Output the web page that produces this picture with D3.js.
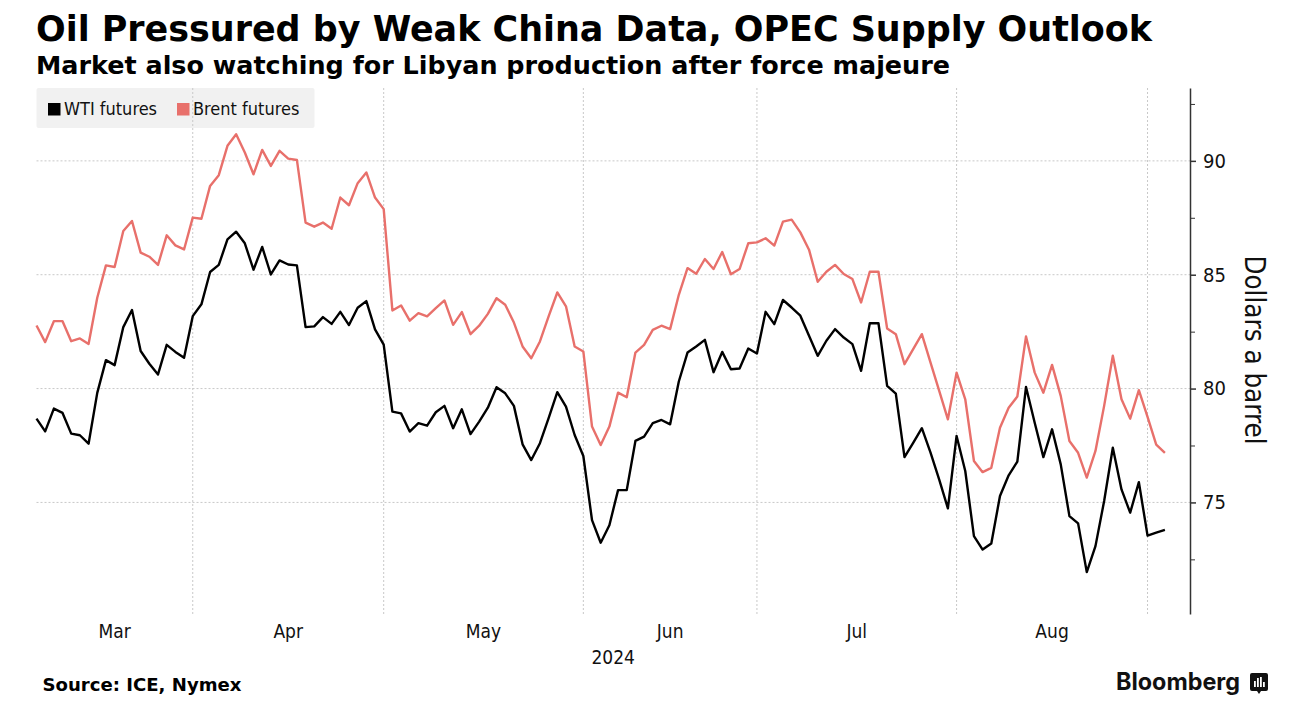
<!DOCTYPE html>
<html>
<head>
<meta charset="utf-8">
<script src="https://cdn.jsdelivr.net/npm/d3@7"></script>
<style>
  body { margin: 0; background: #fff; }
  svg text { font-family: "DejaVu Sans Condensed", "DejaVu Sans", sans-serif; }
</style>
</head>
<body>
<div id="canvas"></div>
<script>
// Daily closes, 4 Mar 2024 -> 3 Sep 2024 (one value per trading day)
const wti = [
  78.68, 78.12, 79.12, 78.93, 78.02, 77.95, 77.58, 79.81, 81.25, 81.03,
  82.70, 83.45, 81.65, 81.09, 80.62, 81.92, 81.61, 81.35, 83.18, 83.70,
  85.12, 85.43, 86.55, 86.89, 86.38, 85.22, 86.22, 85.01, 85.63, 85.45,
  85.41, 82.70, 82.73, 83.14, 82.84, 83.37, 82.79, 83.55, 83.84, 82.60,
  81.93, 78.99, 78.91, 78.11, 78.48, 78.37, 78.96, 79.24, 78.26, 79.09,
  78.00, 78.55, 79.16, 80.06, 79.79, 79.24, 77.55, 76.86, 77.60, 78.70,
  79.84, 79.21, 77.96, 77.04, 74.22, 73.23, 74.00, 75.54, 75.54, 77.70,
  77.89, 78.48, 78.62, 78.43, 80.31, 81.58, 81.85, 82.14, 80.72, 81.61,
  80.85, 80.88, 81.76, 81.54, 83.37, 82.83, 83.89, 83.56, 83.20, 82.32,
  81.44, 82.10, 82.61, 82.24, 81.95, 80.78, 82.87, 82.87, 80.12, 79.78,
  76.99, 77.62, 78.26, 77.19, 76.00, 74.74, 77.92, 76.38, 73.52, 72.93,
  73.20, 75.28, 76.19, 76.79, 80.07, 78.50, 76.99, 78.21, 76.67, 74.40,
  74.08, 71.94, 73.08, 75.06, 77.40, 75.57, 74.55, 75.89, 73.54, 73.67,
  73.79
];
const brent = [
  82.77, 82.04, 82.96, 82.96, 82.08, 82.20, 81.96, 83.99, 85.41, 85.34,
  86.92, 87.36, 85.97, 85.79, 85.43, 86.73, 86.29, 86.11, 87.51, 87.46,
  88.90, 89.37, 90.66, 91.17, 90.37, 89.41, 90.48, 89.78, 90.44, 90.10,
  90.04, 87.29, 87.11, 87.29, 87.02, 88.39, 88.05, 89.02, 89.49, 88.39,
  87.88, 83.43, 83.65, 82.98, 83.31, 83.17, 83.53, 83.87, 82.80, 83.36,
  82.39, 82.76, 83.28, 83.97, 83.68, 82.90, 81.85, 81.33, 82.07, 83.17,
  84.22, 83.61, 81.85, 81.63, 78.33, 77.52, 78.33, 79.82, 79.62, 81.58,
  81.92, 82.58, 82.76, 82.61, 84.12, 85.29, 85.04, 85.69, 85.25, 86.00,
  85.02, 85.25, 86.38, 86.42, 86.60, 86.28, 87.33, 87.42, 86.86, 86.10,
  84.69, 85.13, 85.43, 85.03, 84.81, 83.78, 85.13, 85.13, 82.64, 82.39,
  81.07, 81.73, 82.39, 81.14, 79.90, 78.65, 80.70, 79.53, 76.82, 76.33,
  76.52, 78.28, 79.16, 79.65, 82.29, 80.70, 79.82, 81.04, 79.68, 77.70,
  77.18, 76.09, 77.26, 79.24, 81.44, 79.53, 78.68, 79.93, 78.76, 77.54,
  77.18
];
const seriesNames = ["WTI futures", "Brent futures"];
const seriesColors = ["#000000", "#e8706b"];
const yTicks = [75, 80, 85, 90];
const yMinorTicks = [72.5, 77.5, 82.5, 87.5, 92.5];
const monthLabels = ["Mar", "Apr", "May", "Jun", "Jul", "Aug"];
const yearLabel = "2024";

// Trading days: weekdays, Good Friday closed
const days = d3.timeDay.range(new Date(2024, 2, 4), new Date(2024, 8, 4))
  .filter(d => d.getDay() !== 0 && d.getDay() !== 6)
  .filter(d => +d !== +new Date(2024, 2, 29));

const width = 1316;
const height = 716;

const svg = d3.select("#canvas").append("svg")
  .attr("width", width)
  .attr("height", height);

const x = d3.scaleLinear()
  .domain([0, days.length - 1])
  .range([36.5, 36.5 + (days.length - 1) * 8.68]);

const y = d3.scaleLinear()
  .domain([70.1, 93.2])
  .range([614, 88]);

const axisX = 1190;

// Titulos
svg.append("text")
  .attr("x", 36).attr("y", 41)
  .attr("textLength", 1116).attr("lengthAdjust", "spacingAndGlyphs")
  .style("font-family", "'DejaVu Sans', sans-serif")
  .style("font-weight", "bold").style("font-size", "35px")
  .text("Oil Pressured by Weak China Data, OPEC Supply Outlook");

svg.append("text")
  .attr("x", 36).attr("y", 74)
  .attr("textLength", 914).attr("lengthAdjust", "spacingAndGlyphs")
  .style("font-family", "'DejaVu Sans', sans-serif")
  .style("font-weight", "bold").style("font-size", "24px")
  .text("Market also watching for Libyan production after force majeure");

// Legend background (gridlines show through it)
svg.append("rect")
  .attr("x", 36.5).attr("y", 88).attr("width", 278).attr("height", 40)
  .attr("rx", 2)
  .attr("fill", "#f1f1f1");

// Month boundaries = last trading day of each month
const monthEnds = monthLabels.map((m, k) => d3.max(days.map((d, i) => d.getMonth() === k + 2 ? i : -1)));

const grid = svg.append("g");
grid.selectAll("line.h").data(yTicks).enter().append("line")
  .attr("x1", x(0)).attr("x2", axisX)
  .attr("y1", d => y(d)).attr("y2", d => y(d))
  .attr("stroke", "#c8c8c8").attr("stroke-width", 1)
  .attr("stroke-dasharray", "2,2");
grid.selectAll("line.v").data(monthEnds).enter().append("line")
  .attr("x1", d => x(d)).attr("x2", d => x(d))
  .attr("y1", 88).attr("y2", 614)
  .attr("stroke", "#c8c8c8").attr("stroke-width", 1)
  .attr("stroke-dasharray", "2,2");

// Month labels centred in each month
svg.append("g").selectAll("text").data(monthLabels).enter().append("text")
  .attr("x", (d, k) => (x(k === 0 ? 0 : monthEnds[k - 1]) + x(monthEnds[k])) / 2)
  .attr("y", 638)
  .attr("text-anchor", "middle")
  .style("font-size", "19px")
  .attr("fill", "#111")
  .text(d => d);

svg.append("text")
  .attr("x", (x(0) + axisX) / 2).attr("y", 664)
  .attr("text-anchor", "middle")
  .style("font-size", "19px")
  .attr("fill", "#111")
  .text(yearLabel);

// Eje y a la derecha
const yAxis = svg.append("g")
  .attr("transform", `translate(${axisX}, 0)`)
  .call(d3.axisRight(y).tickValues(yTicks).tickSize(6).tickPadding(7).tickSizeOuter(0));
yAxis.select(".domain").attr("stroke", "#333").attr("stroke-width", 1.5);
yAxis.selectAll(".tick line").attr("stroke", "#333").attr("stroke-width", 1.5);
yAxis.selectAll(".tick text")
  .style("font-size", "20px")
  .style("font-family", "'DejaVu Sans Condensed', 'DejaVu Sans', sans-serif")
  .attr("fill", "#111");

const yMinor = svg.append("g")
  .attr("transform", `translate(${axisX}, 0)`)
  .call(d3.axisRight(y).tickValues(yMinorTicks).tickSize(5).tickFormat("").tickSizeOuter(0));
yMinor.select(".domain").remove();
yMinor.selectAll(".tick line").attr("stroke", "#333");

svg.append("text")
  .attr("transform", `translate(1245, 350) rotate(90)`)
  .attr("text-anchor", "middle")
  .style("font-size", "27.5px")
  .attr("fill", "#111")
  .text("Dollars a barrel");

// Lineas
const line = d3.line()
  .x((d, i) => x(i))
  .y(d => y(d));

[brent, wti].forEach(s => {
  svg.append("path")
    .datum(s)
    .attr("fill", "none")
    .attr("stroke", s === wti ? seriesColors[0] : seriesColors[1])
    .attr("stroke-width", 2.4)
    .attr("stroke-linejoin", "round")
    .attr("d", line);
});

// Leyenda
const legendX = [48, 177];
const legend = svg.append("g");
legend.selectAll("rect").data(seriesNames).enter().append("rect")
  .attr("x", (d, k) => legendX[k]).attr("y", 103)
  .attr("width", 12.5).attr("height", 12.5)
  .attr("fill", (d, k) => seriesColors[k]);
legend.selectAll("text").data(seriesNames).enter().append("text")
  .attr("x", (d, k) => legendX[k] + 16).attr("y", 115)
  .style("font-size", "18px")
  .attr("fill", "#111")
  .text(d => d);

// Pie
svg.append("text")
  .attr("x", 42.5).attr("y", 691)
  .attr("textLength", 199).attr("lengthAdjust", "spacingAndGlyphs")
  .style("font-family", "'DejaVu Sans', sans-serif")
  .style("font-weight", "bold").style("font-size", "17.5px")
  .text("Source: ICE, Nymex");

svg.append("text")
  .attr("x", 1116).attr("y", 690)
  .attr("textLength", 124).attr("lengthAdjust", "spacingAndGlyphs")
  .style("font-family", "Inter, sans-serif")
  .style("font-weight", "bold").style("font-size", "24px")
  .attr("fill", "#111")
  .text("Bloomberg");

const logo = svg.append("g").attr("transform", "translate(1250, 673)");
logo.append("path")
  .attr("d", "M2,0 H16 Q18,0 18,2 V16 Q18,18 16,18 H11 L9,21 L7,18 H2 Q0,18 0,16 V2 Q0,0 2,0 Z")
  .attr("fill", "#111");
[[4, 8, 6], [7, 5, 9], [10, 4, 10], [13, 9, 5]].forEach(b => {
  logo.append("rect").attr("x", b[0]).attr("y", b[1]).attr("width", 1.8).attr("height", b[2]).attr("fill", "#fff");
});
</script>
</body>
</html>
